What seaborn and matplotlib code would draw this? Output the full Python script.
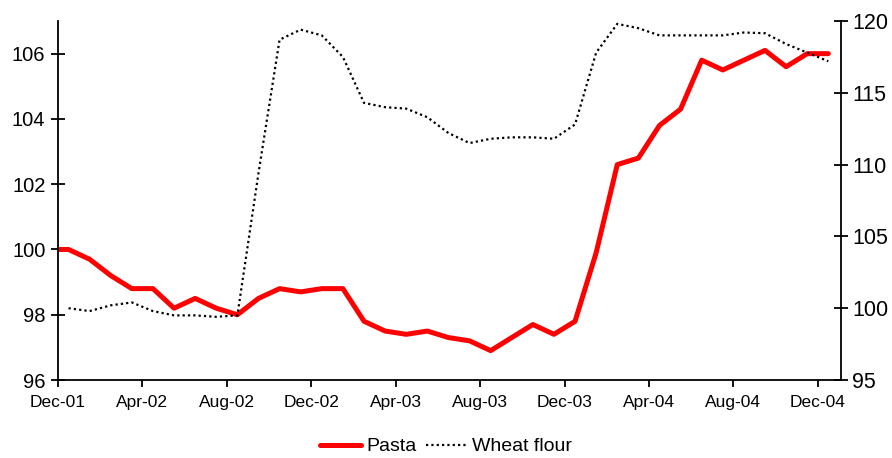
import numpy as np
import pandas as pd
import matplotlib
matplotlib.use("Agg")
import matplotlib.pyplot as plt
import seaborn as sns

# Monthly index values, Nov-01 .. Dec-04 (mid-month observations)
month_labels = ["Nov-01", "Dec-01", "Jan-02", "Feb-02", "Mar-02", "Apr-02", "May-02", "Jun-02",
                "Jul-02", "Aug-02", "Sep-02", "Oct-02", "Nov-02", "Dec-02", "Jan-03", "Feb-03",
                "Mar-03", "Apr-03", "May-03", "Jun-03", "Jul-03", "Aug-03", "Sep-03", "Oct-03",
                "Nov-03", "Dec-03", "Jan-04", "Feb-04", "Mar-04", "Apr-04", "May-04", "Jun-04",
                "Jul-04", "Aug-04", "Sep-04", "Oct-04", "Nov-04", "Dec-04"]

pasta = [100.0, 100.0, 99.7, 99.2, 98.8, 98.8, 98.2, 98.5, 98.2, 98.0, 98.5, 98.8, 98.7,
         98.8, 98.8, 97.8, 97.5, 97.4, 97.5, 97.3, 97.2, 96.9, 97.3, 97.7, 97.4, 97.8,
         99.9, 102.6, 102.8, 103.8, 104.3, 105.8, 105.5, 105.8, 106.1, 105.6, 106.0, 106.0]

wheat_flour = [np.nan, 100.0, 99.8, 100.2, 100.4, 99.8, 99.5, 99.5, 99.4, 99.5, 109.4, 118.7,
               119.4, 119.0, 117.5, 114.3, 114.0, 113.9, 113.3, 112.2, 111.5, 111.8, 111.9,
               111.9, 111.8, 112.8, 117.8, 119.8, 119.5, 119.0, 119.0, 119.0, 119.0, 119.2,
               119.15, 118.4, 117.8, 117.2]

tick_labels = ["Dec-01", "Apr-02", "Aug-02", "Dec-02", "Apr-03", "Aug-03", "Dec-03",
               "Apr-04", "Aug-04", "Dec-04"]

# Month boundaries: Dec-01 starts at 0, each observation sits mid-month
pos = np.arange(len(month_labels)) - 1 + 0.5
df = pd.DataFrame({"month": month_labels, "pos": pos,
                   "Pasta": pasta, "Wheat flour": wheat_flour})

sns.set_style("ticks")
plt.rcParams["font.family"] = ["Liberation Sans", "DejaVu Sans"]
plt.rcParams["text.color"] = "black"
plt.rcParams["xtick.color"] = "black"
plt.rcParams["ytick.color"] = "black"

fig = plt.figure(figsize=(8.92, 4.58), dpi=100)
ax = fig.add_axes([0.065, 0.1703, 0.8778, 0.7838])

sns.lineplot(data=df, x="pos", y="Pasta", ax=ax, color="#ff0000", linewidth=3.6,
             estimator=None, label="Pasta", legend=False)

ax2 = ax.twinx()
sns.lineplot(data=df.dropna(), x="pos", y="Wheat flour", ax=ax2, color="black",
             linewidth=1.6, linestyle=(0, (1, 1.4)), estimator=None,
             label="Wheat flour", legend=False)

ax.set_xlim(0, 37.1)
ax.set_ylim(96, 107)
ax2.set_ylim(95, 120)

ax.set_xticks(np.arange(0, 37, 4))
ax.set_xticklabels(tick_labels)
ax.set_yticks([96, 98, 100, 102, 104, 106])
ax2.set_yticks([95, 100, 105, 110, 115, 120])

for a in (ax, ax2):
    a.set_xlabel("")
    a.set_ylabel("")
    a.spines["top"].set_visible(False)
    for s in ("left", "right", "bottom"):
        a.spines[s].set_linewidth(1.3)
        a.spines[s].set_color("black")

ax.spines["right"].set_visible(False)
ax2.spines["left"].set_visible(False)
ax2.spines["bottom"].set_visible(False)

ax.tick_params(axis="y", direction="inout", length=10, width=1.3, labelsize=14.5, pad=4,
               colors="black")
ax.tick_params(axis="x", direction="out", length=5, width=1.3, labelsize=12.5, pad=6,
               colors="black")
ax2.tick_params(axis="y", direction="inout", length=10, width=1.3, labelsize=15.5, pad=3,
                colors="black")

handles = ax.get_lines()[:1] + ax2.get_lines()[:1]
leg = fig.legend(handles, ["Pasta", "Wheat flour"], loc="center", bbox_to_anchor=(0.5, 0.025),
                 ncol=2, frameon=False, fontsize=14, handlelength=2.1, handletextpad=0.25,
                 columnspacing=0.5)
for t in leg.get_texts():
    t.set_color("black")

fig.savefig("out.png", dpi=100)
